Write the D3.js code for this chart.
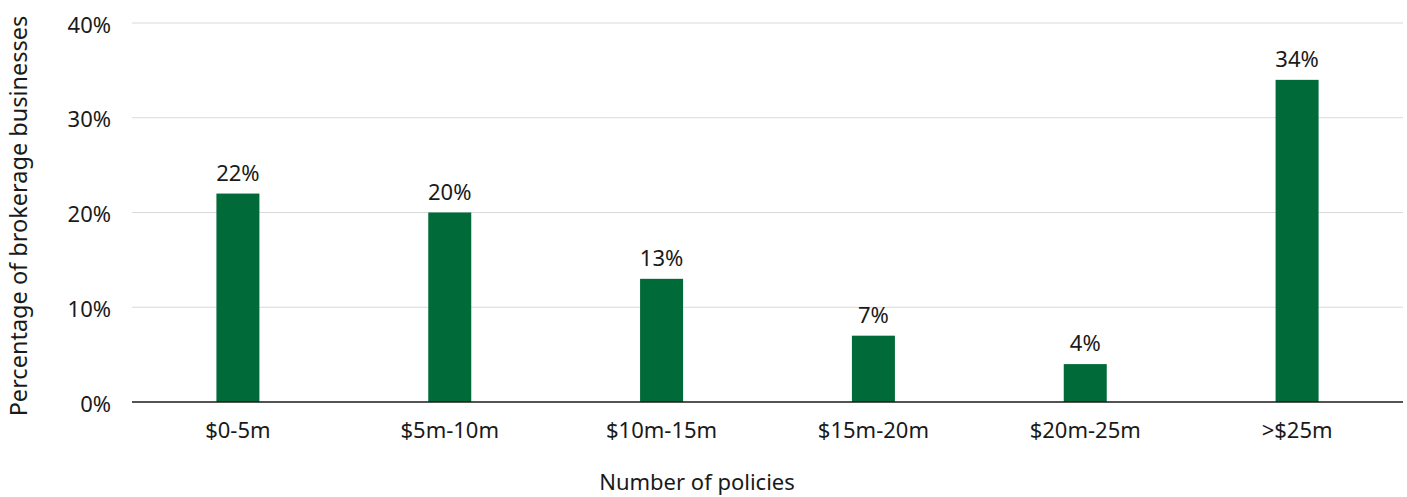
<!DOCTYPE html>
<html>
<head>
<meta charset="utf-8">
<script src="https://cdn.jsdelivr.net/npm/d3@7"></script>
<style>
  body { margin: 0; background: #fff; }
  svg text { font-family: "Noto Sans", "Open Sans", sans-serif; fill: #1a1a1a; }
</style>
</head>
<body>
<svg width="1407" height="497"></svg>
<script>
var categories = ["$0-5m", "$5m-10m", "$10m-15m", "$15m-20m", "$20m-25m", ">$25m"];
var values = [22, 20, 13, 7, 4, 34];
var yTicks = [0, 10, 20, 30, 40];

var svg = d3.select("svg"),
    margin = {top: 23, right: 4, bottom: 95, left: 132},
    width = +svg.attr("width") - margin.left - margin.right,
    height = +svg.attr("height") - margin.top - margin.bottom,
    g = svg.append("g").attr("transform", "translate(" + margin.left + "," + margin.top + ")");

var x = d3.scaleBand()
    .domain(categories)
    .range([0, width])
    .paddingInner(0.797)
    .paddingOuter(0.3985);

var y = d3.scaleLinear()
    .domain([0, 40])
    .range([height, 0]);

// gridlines
g.append("g")
  .selectAll("line")
  .data(yTicks.slice(1))
  .enter().append("line")
    .attr("x1", 0)
    .attr("x2", width)
    .attr("y1", function(d) { return y(d); })
    .attr("y2", function(d) { return y(d); })
    .attr("stroke", "#d9d9d9")
    .attr("stroke-width", 1);

// y tick labels
g.append("g")
  .selectAll("text")
  .data(yTicks)
  .enter().append("text")
    .attr("x", -21)
    .attr("y", function(d) { return y(d) + 2; })
    .attr("dy", "0.35em")
    .attr("text-anchor", "end")
    .attr("font-size", 22)
    .text(function(d) { return d + "%"; });

// bars
g.append("g")
  .selectAll("rect")
  .data(values)
  .enter().append("rect")
    .attr("x", function(d, i) { return x(categories[i]); })
    .attr("y", function(d) { return y(d); })
    .attr("width", x.bandwidth())
    .attr("height", function(d) { return height - y(d); })
    .attr("fill", "#006b38");

// value labels
g.append("g")
  .selectAll("text")
  .data(values)
  .enter().append("text")
    .attr("x", function(d, i) { return x(categories[i]) + x.bandwidth() / 2; })
    .attr("y", function(d) { return y(d) - 13; })
    .attr("text-anchor", "middle")
    .attr("font-size", 22)
    .text(function(d) { return d + "%"; });

// x axis line
g.append("line")
    .attr("x1", 0)
    .attr("x2", width)
    .attr("y1", height)
    .attr("y2", height)
    .attr("stroke", "#1a1a1a")
    .attr("stroke-width", 1.5);

// x labels
g.append("g")
  .selectAll("text")
  .data(categories)
  .enter().append("text")
    .attr("x", function(d) { return x(d) + x.bandwidth() / 2; })
    .attr("y", height + 28)
    .attr("dy", "0.35em")
    .attr("text-anchor", "middle")
    .attr("font-size", 22)
    .text(function(d) { return d; });

// axis titles
svg.append("text")
    .attr("x", 697)
    .attr("y", 482)
    .attr("dy", "0.35em")
    .attr("text-anchor", "middle")
    .attr("font-size", 22)
    .text("Number of policies");

svg.append("text")
    .attr("transform", "translate(19," + 216 + ") rotate(-90)")
    .attr("dy", "0.35em")
    .attr("text-anchor", "middle")
    .attr("font-size", 23.5)
    .text("Percentage of brokerage businesses");
</script>
</body>
</html>
